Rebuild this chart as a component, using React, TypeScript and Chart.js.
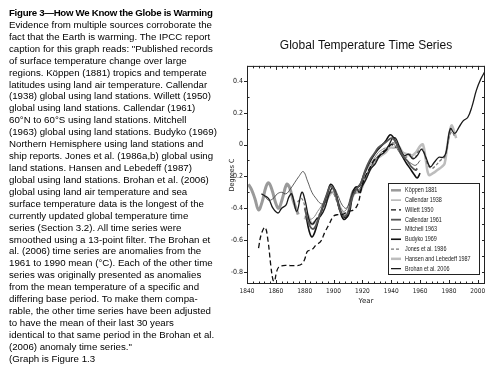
import React, { useEffect, useRef } from 'react';
import { Chart, registerables } from 'chart.js';

Chart.register(...registerables);

const captionTitle = 'Figure 3\u2014How We Know the Globe is Warming';
const captionLines = [
  'Evidence from multiple sources corroborate the',
  'fact that the Earth is warming. The IPCC report',
  'caption for this graph reads: "Published records',
  'of surface temperature change over large',
  'regions. K\u00f6ppen (1881) tropics and temperate',
  'latitudes using land air temperature. Callendar',
  '(1938) global using land stations. Willett (1950)',
  'global using land stations. Callendar (1961)',
  '60\u00b0N to 60\u00b0S using land stations. Mitchell',
  '(1963) global using land stations. Budyko (1969)',
  'Northern Hemisphere using land stations and',
  'ship reports. Jones et al. (1986a,b) global using',
  'land stations. Hansen and Lebedeff (1987)',
  'global using land stations. Brohan et al. (2006)',
  'global using land air temperature and sea',
  'surface temperature data is the longest of the',
  'currently updated global temperature time',
  'series (Section 3.2). All time series were',
  'smoothed using a 13-point filter. The Brohan et',
  'al. (2006) time series are anomalies from the',
  '1961 to 1990 mean (\u00b0C). Each of the other time',
  'series was originally presented as anomalies',
  'from the mean temperature of a specific and',
  'differing base period. To make them compa-',
  'rable, the other time series have been adjusted',
  'to have the mean of their last 30 years',
  'identical to that same period in the Brohan et al.',
  '(2006) anomaly time series."',
  '(Graph is Figure 1.3',
];

const chartTitle = 'Global Temperature Time Series';
const xAxisTitle = 'Year';
const yAxisTitle = 'Degrees C';

const xTickYears = [1840, 1860, 1880, 1900, 1920, 1940, 1960, 1980, 2000];
const yTickValues = [-0.8, -0.6, -0.4, -0.2, 0, 0.2, 0.4];

const seriesLabels = [
  'K\u00f6ppen 1881',
  'Callendar 1938',
  'Willett 1950',
  'Callendar 1961',
  'Mitchell 1963',
  'Budyko 1969',
  'Jones et al. 1986',
  'Hansen and Lebedeff 1987',
  'Brohan et al. 2006',
];

const koppenYears = [1841, 1843, 1845.5, 1848, 1850.5, 1853, 1855, 1857.5, 1860, 1862, 1864.5, 1867.5, 1869.5, 1872, 1875.5];
const koppenValues = [-0.25, -0.28, -0.34, -0.41, -0.36, -0.27, -0.24, -0.29, -0.37, -0.40, -0.34, -0.25, -0.27, -0.35, -0.44];

const callendar1938Years = [1880, 1883, 1886, 1889, 1892, 1895, 1898, 1901, 1904, 1907, 1910, 1913, 1916, 1919, 1922, 1925, 1928, 1931, 1934, 1936];
const callendar1938Values = [-0.45, -0.47, -0.46, -0.42, -0.38, -0.33, -0.27, -0.31, -0.38, -0.42, -0.39, -0.29, -0.27, -0.24, -0.18, -0.13, -0.09, -0.05, -0.03, -0.02];

const willettYears = [1848, 1850, 1852.5, 1854.5, 1856.5, 1858, 1859, 1860.5, 1862, 1865, 1870, 1875, 1878, 1880, 1882, 1885, 1888, 1891, 1894, 1897, 1900, 1903, 1906, 1910, 1914, 1917, 1919.5, 1922, 1925, 1928, 1931, 1934, 1937, 1940, 1943];
const willettValues = [-0.65, -0.56, -0.52, -0.60, -0.76, -0.85, -0.86, -0.80, -0.77, -0.76, -0.76, -0.76, -0.75, -0.72, -0.67, -0.66, -0.63, -0.61, -0.55, -0.50, -0.45, -0.44, -0.44, -0.42, -0.41, -0.37, -0.27, -0.20, -0.15, -0.10, -0.08, -0.05, -0.03, 0.00, -0.02];

const callendar1961Years = [1880, 1883, 1886, 1889, 1892, 1895, 1898, 1901, 1904, 1907, 1910, 1913, 1916, 1919, 1922, 1925, 1928, 1931, 1934, 1937, 1940, 1942, 1945, 1948, 1951, 1954, 1957, 1958];
const callendar1961Values = [-0.40, -0.50, -0.53, -0.48, -0.40, -0.32, -0.26, -0.30, -0.40, -0.45, -0.43, -0.33, -0.28, -0.24, -0.16, -0.10, -0.06, -0.02, 0.00, 0.02, 0.04, 0.03, -0.02, -0.07, -0.10, -0.14, -0.16, -0.15];

const mitchellYears = [1852, 1855, 1858, 1861, 1864, 1867, 1870, 1873, 1876, 1879, 1882, 1885, 1888, 1891, 1894, 1897, 1900, 1903, 1906, 1909, 1912, 1915, 1918, 1921, 1924, 1927, 1930, 1933, 1936, 1939, 1942, 1945, 1948, 1951, 1954, 1957, 1960];
const mitchellValues = [-0.32, -0.35, -0.34, -0.31, -0.30, -0.31, -0.28, -0.24, -0.20, -0.17, -0.23, -0.30, -0.34, -0.37, -0.37, -0.30, -0.27, -0.32, -0.38, -0.40, -0.33, -0.28, -0.28, -0.22, -0.17, -0.12, -0.08, -0.05, -0.03, 0.00, 0.00, -0.04, -0.08, -0.10, -0.12, -0.13, -0.10];

const budykoYears = [1881, 1883, 1885, 1887, 1890, 1893, 1896, 1898, 1901, 1904, 1907, 1910, 1913, 1915, 1918, 1921, 1924, 1927, 1930, 1933, 1936, 1939, 1941, 1944, 1947, 1950, 1953, 1956, 1958, 1960];
const budykoValues = [-0.45, -0.54, -0.58, -0.55, -0.46, -0.38, -0.30, -0.25, -0.29, -0.40, -0.47, -0.44, -0.31, -0.27, -0.26, -0.19, -0.13, -0.08, -0.04, -0.01, 0.02, 0.06, 0.05, 0.00, -0.06, -0.11, -0.15, -0.19, -0.21, -0.18];

const jonesYears = [1875, 1878, 1881, 1884, 1887, 1890, 1893, 1896, 1899, 1902, 1905, 1908, 1911, 1914, 1917, 1920, 1923, 1926, 1929, 1932, 1935, 1938, 1941, 1944, 1947, 1950, 1953, 1956, 1959, 1962, 1965, 1968, 1971, 1974, 1977, 1980, 1982, 1984];
const jonesValues = [-0.36, -0.34, -0.42, -0.50, -0.48, -0.44, -0.40, -0.33, -0.30, -0.35, -0.43, -0.45, -0.40, -0.31, -0.30, -0.25, -0.20, -0.14, -0.11, -0.07, -0.05, -0.02, 0.01, 0.00, -0.05, -0.08, -0.06, -0.09, -0.04, -0.03, -0.12, -0.15, -0.13, -0.10, -0.08, 0.04, 0.08, 0.05];

const hansenYears = [1880, 1882, 1885, 1888, 1891, 1894, 1897, 1900, 1903, 1906, 1909, 1912, 1915, 1918, 1921, 1924, 1927, 1930, 1933, 1936, 1939, 1942, 1945, 1948, 1951, 1954, 1957, 1960, 1962, 1964, 1966, 1969, 1972, 1975, 1977, 1979, 1981, 1982, 1984, 1985];
const hansenValues = [-0.47, -0.44, -0.50, -0.48, -0.44, -0.38, -0.32, -0.30, -0.36, -0.42, -0.44, -0.36, -0.30, -0.30, -0.24, -0.18, -0.13, -0.09, -0.07, -0.05, -0.02, -0.02, -0.01, -0.05, -0.06, -0.07, -0.05, -0.01, 0.00, -0.10, -0.19, -0.18, -0.16, -0.14, -0.12, 0.00, 0.10, 0.12, 0.07, 0.04];

const brohanYears = [1850, 1852, 1855, 1858, 1861.5, 1864, 1867, 1869, 1871, 1874.5, 1878, 1880.5, 1883, 1885.5, 1888, 1891, 1894, 1897, 1899.5, 1902, 1905, 1908, 1911, 1913.5, 1916, 1918, 1920, 1923, 1926, 1929, 1932, 1935, 1938, 1941, 1943, 1946, 1949, 1952, 1955, 1958, 1961, 1964, 1967, 1970, 1973, 1976, 1978, 1981, 1984, 1987, 1990, 1993, 1996, 1999, 2002, 2005];
const brohanValues = [-0.31, -0.32, -0.34, -0.40, -0.43, -0.40, -0.38, -0.33, -0.31, -0.42, -0.30, -0.36, -0.47, -0.50, -0.47, -0.45, -0.40, -0.31, -0.27, -0.32, -0.42, -0.46, -0.43, -0.31, -0.28, -0.30, -0.26, -0.21, -0.15, -0.12, -0.07, -0.05, -0.01, 0.04, 0.04, -0.02, -0.07, -0.06, -0.09, -0.07, -0.03, -0.08, -0.14, -0.11, -0.08, -0.08, -0.05, 0.10, 0.07, 0.11, 0.15, 0.17, 0.24, 0.34, 0.41, 0.46];

const seriesYears = [koppenYears, callendar1938Years, willettYears, callendar1961Years, mitchellYears, budykoYears, jonesYears, hansenYears, brohanYears];
const seriesValues = [koppenValues, callendar1938Values, willettValues, callendar1961Values, mitchellValues, budykoValues, jonesValues, hansenValues, brohanValues];

const seriesStyles = [
  { color: '#9a9a9a', width: 3, dash: [] as number[], order: 9 },
  { color: '#8a8a8a', width: 1, dash: [] as number[], order: 8 },
  { color: '#111111', width: 1.3, dash: [5, 3], order: 0 },
  { color: '#555555', width: 1.8, dash: [] as number[], order: 0 },
  { color: '#333333', width: 0.8, dash: [] as number[], order: 0 },
  { color: '#111111', width: 1.6, dash: [] as number[], order: 0 },
  { color: '#777777', width: 1.3, dash: [3, 2], order: 7 },
  { color: '#bdbdbd', width: 2.5, dash: [] as number[], order: 10 },
  { color: '#1a1a1a', width: 1.3, dash: [] as number[], order: 0 },
];

const narrowFont = "'Liberation Sans Narrow', 'Arial Narrow', 'DejaVu Sans', sans-serif";
const sansFont = "'Liberation Sans', Arial, Helvetica, sans-serif";

const frameLegendPlugin = {
  id: 'frameLegend',
  afterDatasetsDraw(chart: any) {
    const { ctx, chartArea, scales } = chart;
    const { left, right, top, bottom } = chartArea;
    const xs = scales.x;
    const ys = scales.y;
    ctx.save();
    ctx.strokeStyle = '#222';
    ctx.lineWidth = 1;
    ctx.setLineDash([]);
    ctx.strokeRect(left + 0.5, top + 0.5, right - left - 1, bottom - top - 1);
    ctx.beginPath();
    for (let yr = xTickYears[0]; yr <= xs.max; yr += 4) {
      const px = Math.round(xs.getPixelForValue(yr)) + 0.5;
      const len = (yr - xTickYears[0]) % 20 === 0 ? 4 : 2.5;
      ctx.moveTo(px, bottom);
      ctx.lineTo(px, bottom - len);
      ctx.moveTo(px, top);
      ctx.lineTo(px, top + len);
    }
    for (let k = -8; k <= 4; k++) {
      const py = Math.round(ys.getPixelForValue(k / 10)) + 0.5;
      if (k % 2 === 0) {
        ctx.moveTo(left - 3, py);
        ctx.lineTo(left, py);
      } else {
        ctx.moveTo(left, py);
        ctx.lineTo(left + 2.5, py);
      }
      ctx.moveTo(right, py);
      ctx.lineTo(right - 3, py);
    }
    ctx.stroke();

    // legend box
    const bx0 = right - 97;
    const bx1 = right - 6.5;
    const by0 = bottom - 101;
    const by1 = bottom - 10;
    ctx.fillStyle = '#ffffff';
    ctx.fillRect(bx0, by0, bx1 - bx0, by1 - by0);
    ctx.strokeStyle = '#222';
    ctx.lineWidth = 1;
    ctx.strokeRect(Math.round(bx0) + 0.5, Math.round(by0) + 0.5, Math.round(bx1 - bx0), Math.round(by1 - by0));
    const ds = chart.data.datasets;
    for (let i = 0; i < ds.length; i++) {
      const yy = by0 + 7.3 + i * 9.79;
      ctx.beginPath();
      ctx.strokeStyle = ds[i].borderColor;
      ctx.lineWidth = Math.min(ds[i].borderWidth, 2.5);
      ctx.setLineDash(ds[i].borderDash || []);
      ctx.moveTo(bx0 + 3, yy);
      ctx.lineTo(bx0 + 13, yy);
      ctx.stroke();
      ctx.setLineDash([]);
      ctx.save();
      ctx.translate(bx0 + 17, yy);
      ctx.scale(0.8, 1);
      ctx.font = `6.8px ${sansFont}`;
      ctx.textBaseline = 'middle';
      ctx.textAlign = 'left';
      ctx.fillStyle = '#222';
      ctx.fillText(ds[i].label, 0, 0);
      ctx.restore();
    }
    ctx.restore();
  },
};

export default function App() {
  const canvasRef = useRef<HTMLCanvasElement | null>(null);

  useEffect(() => {
    if (!canvasRef.current) return;
    const datasets = seriesLabels.map((label, i) => ({
      label,
      data: seriesYears[i].map((x, j) => ({ x, y: seriesValues[i][j] })),
      borderColor: seriesStyles[i].color,
      backgroundColor: seriesStyles[i].color,
      borderWidth: seriesStyles[i].width,
      borderDash: seriesStyles[i].dash,
      order: seriesStyles[i].order,
      pointRadius: 0,
      tension: 0.4,
      fill: false,
    }));
    const chart = new Chart(canvasRef.current, {
      type: 'line',
      data: { datasets },
      options: {
        animation: false,
        responsive: false,
        devicePixelRatio: 1,
        layout: { padding: { left: 217, right: 15, top: 0, bottom: 0 } },
        plugins: {
          legend: { display: false },
          tooltip: { enabled: false },
          title: {
            display: true,
            text: chartTitle,
            fullSize: false,
            color: '#111',
            font: { family: sansFont, size: 12, weight: 'normal' },
            padding: { top: 38, bottom: 13.5 },
          },
        },
        scales: {
          x: {
            type: 'linear',
            min: 1840,
            max: 2005,
            afterBuildTicks: (s: any) => {
              s.ticks = xTickYears.map((v) => ({ value: v }));
            },
            afterFit: (s: any) => {
              s.height = 91;
            },
            grid: { display: false, drawTicks: false },
            border: { display: false },
            ticks: {
              autoSkip: false,
              maxRotation: 0,
              padding: 3,
              color: '#222',
              font: { family: narrowFont, size: 6.5, weight: 'condensed' },
              callback: (v: any) => String(v),
            },
            title: {
              display: true,
              text: xAxisTitle,
              color: '#222',
              font: { family: narrowFont, size: 7 },
              padding: { top: 0, bottom: 69.8 },
            },
          },
          y: {
            type: 'linear',
            min: -0.876,
            max: 0.494,
            afterBuildTicks: (s: any) => {
              s.ticks = yTickValues.map((v) => ({ value: v }));
            },
            afterFit: (s: any) => {
              s.width = 30;
            },
            grid: { display: false, drawTicks: false },
            border: { display: false },
            ticks: {
              padding: 4,
              color: '#222',
              font: { family: narrowFont, size: 7, weight: 'condensed' },
              callback: (v: any) => (Math.abs(v) < 1e-9 ? '0' : Number(v).toFixed(1)),
            },
            title: {
              display: true,
              text: yAxisTitle,
              color: '#222',
              font: { family: narrowFont, size: 7, weight: 'condensed' },
              padding: { top: 10.8, bottom: 0 },
            },
          },
        },
      },
      plugins: [frameLegendPlugin],
    } as any);
    return () => chart.destroy();
  }, []);

  return (
    <div style={{ position: 'absolute', left: 0, top: 0, width: 500, height: 375, background: '#fff', overflow: 'hidden' }}>
      <canvas ref={canvasRef} width={500} height={375} style={{ position: 'absolute', left: 0, top: 0, display: 'block' }} />
      <div
        style={{
          position: 'absolute',
          left: 9,
          top: 7,
          fontFamily: sansFont,
          fontSize: '9.7px',
          lineHeight: '11.92px',
          color: '#000',
          whiteSpace: 'nowrap',
        }}
      >
        <div style={{ fontWeight: 'bold', letterSpacing: '-0.3px' }}>{captionTitle}</div>
        {captionLines.map((line, i) => (
          <div key={i}>{line}</div>
        ))}
      </div>
    </div>
  );
}
